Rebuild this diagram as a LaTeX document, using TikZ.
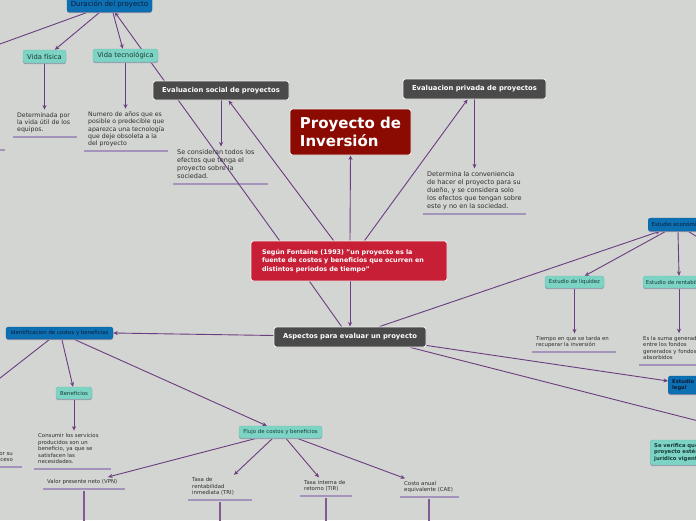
\documentclass[tikz,border=0pt]{standalone}
\usepackage{fontspec}
\setmainfont{DejaVu Sans}
\usetikzlibrary{arrows.meta,shadows,backgrounds,calc}
\definecolor{cBg}{HTML}{D3D5D2}
\definecolor{cConn}{HTML}{6B3C80}
\definecolor{cUline}{HTML}{A493BA}
\definecolor{cDark}{HTML}{4A4A4A}
\definecolor{cEdge}{HTML}{EDEDED}
\definecolor{cBlue}{HTML}{0D70B2}
\definecolor{cNavy}{HTML}{0B1C38}
\definecolor{cTeal}{HTML}{7DD4C4}
\definecolor{cTealT}{HTML}{183A36}
\definecolor{cShad}{HTML}{9C98AC}
\definecolor{cCrim}{HTML}{C61F36}
\definecolor{cDred}{HTML}{8B0B02}
\definecolor{cTxt}{HTML}{2E2E2E}
\begin{document}
\begin{tikzpicture}[x=1pt,y=-1pt,
  mbox/.style={rounded corners=2.5pt, inner sep=0pt, align=center},
  darkb/.style={mbox, fill=cDark, draw=cEdge, line width=0.9pt, text=white,
    font=\bfseries\fontsize{6.8}{8}\selectfont},
  projb/.style={mbox, fill=cDred, draw=cEdge, line width=0.9pt, text=white, align=left,
    font=\bfseries\fontsize{15}{17.4}\selectfont},
  fontb/.style={mbox, fill=cCrim, draw=cEdge, line width=0.9pt, text=white, align=left,
    font=\bfseries\fontsize{6.4}{8.5}\selectfont},
  blueb/.style={mbox, fill=cBlue, draw=cBlue!85!black, line width=0.4pt, text=cNavy,
    font=\fontsize{5.4}{6.4}\selectfont,
    drop shadow={shadow xshift=0pt,shadow yshift=-1.2pt,fill=cShad,opacity=1}},
  tealb/.style={mbox, fill=cTeal, draw=cTeal!90!black, line width=0.4pt, text=cTealT,
    font=\fontsize{5.4}{6.4}\selectfont,
    drop shadow={shadow xshift=0pt,shadow yshift=-1.2pt,fill=cShad,opacity=1}},
  desc/.style={anchor=south west, align=left, inner xsep=4pt, inner ysep=2.5pt,
    text depth=2.5pt, text=cTxt, font=\fontsize{6.2}{7.4}\selectfont},
  descm/.style={desc, font=\fontsize{6.5}{8.2}\selectfont},
  descs/.style={desc, font=\fontsize{5.4}{6.6}\selectfont},
  conn/.style={draw=cConn, line width=0.9pt},
  arr/.style={conn, -{Stealth[length=4.5pt,width=4pt]}},
  uline/.style={draw=cUline, line width=1.3pt},
  vline/.style={draw=cConn!85!white, line width=1.2pt}
]
\useasboundingbox (0,0) rectangle (696,520);
\clip (0,0) rectangle (696,520);

% ---------- boxes ----------
\node[blueb, font=\fontsize{7}{8}\selectfont, minimum width=85, minimum height=15] (dur) at (109.5,4.5) {Duración del proyecto};
\node[tealb, font=\fontsize{6.8}{8}\selectfont, minimum width=43, minimum height=13] (vf) at (44.5,56.5) {Vida física};
\node[tealb, font=\fontsize{6.8}{8}\selectfont, minimum width=65, minimum height=13] (vt) at (125.5,55.5) {Vida tecnológica};
\node[darkb, minimum width=136, minimum height=19] (esoc) at (221,90.5) {Evaluacion social de proyectos};
\node[darkb, minimum width=143, minimum height=20] (epriv) at (474.5,89) {Evaluacion privada de proyectos};
\node[projb, minimum width=121, minimum height=46] (proy) at (350.5,132) {Proyecto de\\Inversión};
\node[fontb, minimum width=196, minimum height=40, text width=174] (font) at (349,261)
  {Según Fontaine (1993) "un proyecto es la\\fuente de costos y beneficios que ocurren en\\distintos periodos de tiempo"};
\node[darkb, minimum width=152, minimum height=20] (asp) at (350,337) {Aspectos para evaluar un proyecto};
\node[blueb, minimum width=58, minimum height=13, anchor=west] (econ) at (648,224.5) {Estudio económico};
\node[tealb, minimum width=59, minimum height=12] (liq) at (574.5,282) {Estudio de liquidez};
\node[tealb, minimum width=68, minimum height=12, anchor=west] (rent) at (643,282) {Estudio de rentabilidad};
\node[blueb, font=\bfseries\fontsize{5.2}{6.4}\selectfont, align=left, inner xsep=4pt, minimum height=18, anchor=west] (legal) at (668,385) {Estudio del marco\\legal};
\node[tealb, font=\bfseries\fontsize{5.3}{6.8}\selectfont, align=left, inner xsep=4pt, minimum height=25, anchor=west] (verif) at (650,452.5) {Se verifica que los aspectos del\\proyecto estén dentro del marco\\jurídico vigente};
\node[blueb, minimum width=107, minimum height=12] (idcb) at (59.5,333) {Identificacion de costos y beneficios};
\node[tealb, minimum width=36, minimum height=12] (ben) at (74,393) {Beneficios};
\node[tealb, minimum width=83, minimum height=12] (flujo) at (280.5,432) {Flujo de costos y beneficios};

% ---------- texts ----------
\node[desc] (vfT) at (13,137) {Determinada por\\la vida útil de los\\equipos.};
\node[desc] (vtT) at (84,151) {Numero de años que es\\posible o predecible que\\aparezca una tecnología\\que deje obsoleta a la\\del proyecto};
\node[descm] (socT) at (173,184) {Se consideran todos los\\efectos que tenga el\\proyecto sobre la\\sociedad.};
\node[descm] (privT) at (423,214) {Determina la conveniencia\\de hacer el proyecto para su\\dueño, y se considera solo\\los efectos que tengan sobre\\este y no en la sociedad.};
\node[descs] (liqT) at (532,352) {Tiempo en que se tarda en\\recuperar la inversión};
\node[descs] (rentT) at (639,365) {Es la suma generada\\entre los fondos\\generados y fondos\\absorbidos};
\node[descs] (benT) at (34,469) {Consumir los servicios\\producidos son un\\beneficio, ya que se\\satisfacen las\\necesidades.};
\node[descs, anchor=south east, align=right] (leftT) at (17,467) {por su\\proceso};
\node[descs] (vpn) at (43,489) {Valor presente neto (VPN)};
\node[descs] (tri) at (188,500) {Tasa de\\rentabilidad\\inmediata (TRI)};
\node[descs] (tir) at (300,496) {Tasa interna de\\retorno (TIR)};
\node[descs] (cae) at (400,497) {Costo anual\\equivalente (CAE)};

% free ends
\coordinate (offL1) at (-5,45.8);
\coordinate (offL2) at (-5,382);
\coordinate (offR1) at (720,251);
\coordinate (offR2) at (720,426.5);

\begin{scope}[on background layer]
\fill[cBg] (0,0) rectangle (696,520);
% underlines
\draw[uline] (vfT.south west) -- ++(64,0);
\draw[uline] (vtT.south west) -- ++(84,0);
\draw[uline] (socT.south west) -- ++(95,0);
\draw[uline] (privT.south west) -- ++(103,0);
\draw[uline] (liqT.south west) -- ++(84,0);
\draw[uline] (rentT.south west) -- ++(80,0);
\draw[uline] (benT.south west) -- ++(77,0);
\draw[uline] ([xshift=5pt]leftT.south east) -- ++(-40,0);
\draw[uline] (vpn.south west) -- ++(82,0);
\draw[uline] (tri.south west) -- ++(64,0);
\draw[uline] (tir.south west) -- ++(52,0);
\draw[uline] (cae.south west) -- ++(59,0);
\draw[uline] (-10,150) -- (5,150);
% vertical lines below the bottom texts
\draw[vline] ([xshift=41pt,yshift=-2pt]vpn.south west) -- ++(0,40);
\draw[vline] ([xshift=32pt,yshift=-2pt]tri.south west) -- ++(0,40);
\draw[vline] ([xshift=26pt,yshift=-2pt]tir.south west) -- ++(0,40);
\draw[vline] ([xshift=29pt,yshift=-2pt]cae.south west) -- ++(0,40);
% connectors
\draw[conn] ([xshift=21pt]dur.south west) -- (offL1);
\draw[arr] ([xshift=33pt]dur.south west) -- ([xshift=32pt]vf.north west);
\draw[arr] ([xshift=46pt]dur.south west) -- ([xshift=30pt]vt.north west);
\draw[arr] ([xshift=29pt]font.north west) -- ([xshift=48pt]dur.south west);
\draw[arr] ([xshift=83pt]font.north west) -- ([xshift=76pt]esoc.south west);
\draw[arr] ([xshift=1pt]font.north) -- (proy.south);
\draw[arr] ([xshift=114pt]font.north west) -- ([xshift=65pt]epriv.south west);
\draw[arr] (esoc.south) -- (esoc.south |- socT.north);
\draw[arr] (epriv.south) -- (epriv.south |- privT.north);
\draw[arr] (vf.south) -- (vf.south |- vfT.north);
\draw[arr] (vt.south) -- (vt.south |- vtT.north);
\draw[arr] ([xshift=1pt]font.south) -- (asp.north);
\draw[conn] ([xshift=59pt]font.south west) -- ([xshift=68pt]asp.north west);
\draw[arr] ([yshift=1.5pt]asp.west) -- (idcb.east);
\draw[arr] ([xshift=106pt]asp.north west) -- ([xshift=12pt]econ.south west);
\draw[arr] ([xshift=18pt]econ.south west) -- ([xshift=40pt]liq.north west);
\draw[arr] ([xshift=30pt]econ.south west) -- ([xshift=36pt]rent.north west);
\draw[conn] ([xshift=40pt]econ.south west) -- (offR1);
\draw[arr] (liq.south) -- (liq.south |- liqT.north);
\draw[arr] ([xshift=36pt]rent.south west) -- ([xshift=36pt]rent.south west |- rentT.north);
\draw[arr] ([yshift=2pt]asp.south east) -- ([yshift=4pt]legal.west);
\draw[conn] ([xshift=-16pt]asp.south east) -- (offR2);
\draw[conn] ([xshift=44pt]idcb.south west) -- (offL2);
\draw[arr] ([xshift=56pt]idcb.south west) -- ([xshift=-1pt]ben.north);
\draw[arr] ([xshift=68pt]idcb.south west) -- ([xshift=28pt]flujo.north west);
\draw[arr] (ben.south) -- (ben.south |- benT.north);
\draw[arr] ([xshift=18pt]flujo.south west) -- ([xshift=65pt]vpn.north west);
\draw[arr] ([xshift=34pt]flujo.south west) -- ([xshift=46pt]tri.north west);
\draw[arr] ([xshift=47pt]flujo.south west) -- ([xshift=19pt]tir.north west);
\draw[arr] ([xshift=58pt]flujo.south west) -- ([xshift=5pt]cae.north west);
\end{scope}
\end{tikzpicture}
\end{document}
